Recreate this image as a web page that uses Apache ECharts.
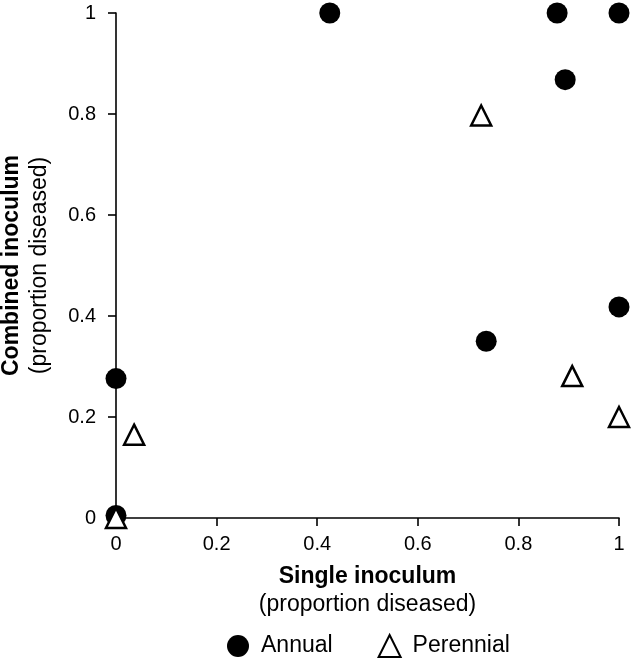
<!DOCTYPE html>
<html>
<head>
<meta charset="utf-8">
<script src="https://cdn.jsdelivr.net/npm/echarts@6/dist/echarts.min.js"></script>
<style>
html,body{margin:0;padding:0;background:#fff;}
#chart{width:631px;height:659px;}
</style>
</head>
<body>
<div id="chart"></div>
<script>
// Data
var annualPoints = [
  [0.425, 1.0],
  [0.877, 1.0],
  [1.0, 1.0],
  [0.893, 0.868],
  [0.736, 0.35],
  [1.0, 0.418],
  [0.0, 0.276],
  [0.0, 0.005]
];
var perennialPoints = [
  [0.726, 0.797],
  [0.907, 0.281],
  [1.0, 0.2],
  [0.036, 0.165],
  [0.0, 0.0]
];
var seriesNames = ['Annual', 'Perennial'];
var xTitle = ['Single inoculum', '(proportion diseased)'];
var yTitle = ['Combined inoculum', '(proportion diseased)'];

var FONT = '"Liberation Sans", Arial, sans-serif';
var chart = echarts.init(document.getElementById('chart'));

function axisName(lines) {
  return '{b|' + lines[0] + '}\n{r|' + lines[1] + '}';
}
var nameRich = {
  b: { fontFamily: FONT, fontSize: 23, fontWeight: 'bold', color: '#000', lineHeight: 28 },
  r: { fontFamily: FONT, fontSize: 23, color: '#000', lineHeight: 28 }
};

chart.setOption({
  animation: false,
  backgroundColor: '#fff',
  textStyle: { fontFamily: FONT },
  grid: { left: 116, right: 12, top: 13, bottom: 141, containLabel: false, outerBoundsMode: 'none' },
  xAxis: {
    type: 'value', min: 0, max: 1, interval: 0.2,
    name: axisName(xTitle), nameLocation: 'middle', nameGap: 45,
    nameTextStyle: { rich: nameRich, align: 'center' },
    axisLine: { show: true, onZero: false, lineStyle: { color: '#000', width: 1.6 } },
    axisTick: { show: true, inside: false, length: 8, lineStyle: { color: '#000', width: 1.6 } },
    axisLabel: { color: '#000', fontSize: 20, fontFamily: FONT, margin: 16 },
    splitLine: { show: false }
  },
  yAxis: {
    type: 'value', min: 0, max: 1, interval: 0.2,
    name: axisName(yTitle), nameLocation: 'middle', nameGap: 62, nameRotate: 90,
    nameTextStyle: { rich: nameRich, align: 'center' },
    axisLine: { show: true, onZero: false, lineStyle: { color: '#000', width: 1.6 } },
    axisTick: { show: true, inside: false, length: 8, lineStyle: { color: '#000', width: 1.6 } },
    axisLabel: { color: '#000', fontSize: 20, fontFamily: FONT, margin: 20 },
    splitLine: { show: false }
  },
  legend: {
    data: seriesNames,
    left: 222, top: 629,
    itemWidth: 22, itemHeight: 22, itemGap: 45,
    textStyle: { fontSize: 23, color: '#000', fontFamily: FONT, padding: [0, 0, 0, 7] }
  },
  series: [
    {
      name: seriesNames[0], type: 'scatter', data: annualPoints,
      symbol: 'circle', symbolSize: 21, clip: false,
      itemStyle: { color: '#000', opacity: 1 }
    },
    {
      name: seriesNames[1], type: 'scatter', data: perennialPoints,
      symbol: 'triangle', symbolSize: 20, clip: false,
      itemStyle: { color: '#fff', borderColor: '#000', borderWidth: 2.5, opacity: 1 }
    }
  ]
});
</script>
</body>
</html>
